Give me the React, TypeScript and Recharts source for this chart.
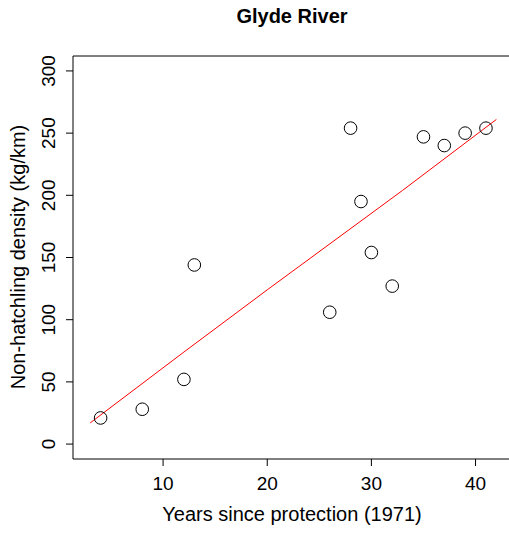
import {
  ComposedChart,
  Scatter,
  Line,
  XAxis,
  YAxis,
  ReferenceLine,
  Label,
} from "recharts";

// years since protection and non-hatchling density
const years: number[] = [4, 8, 12, 13, 26, 28, 29, 30, 32, 35, 37, 39, 41];
const density: number[] = [21, 28, 52, 144, 106, 254, 195, 154, 127, 247, 240, 250, 254];

// fitted trend (red), read at a few spots along the line
const fitYears: number[] = [3, 12, 20, 33, 42];
const fitDensity: number[] = [17, 74, 124, 204, 261];

const xTicks: number[] = [10, 20, 30, 40];
const yTicks: number[] = [0, 50, 100, 150, 200, 250, 300];

const points = years.map((x, i) => ({ x, y: density[i] }));
const fit = fitYears.map((x, i) => ({ x, y: fitDensity[i] }));

const FONT = "'Liberation Sans', Arial, Helvetica, sans-serif";

// y tick labels are rotated like R's default las=0
const YTick = (props: any) => {
  const { y, payload } = props;
  const bx = 55;
  return (
    <text
      x={bx}
      y={y}
      transform={`rotate(-90, ${bx}, ${y})`}
      textAnchor="middle"
      fontSize={19}
      fontFamily={FONT}
      fill="#000"
    >
      {payload.value}
    </text>
  );
};

const XTick = (props: any) => {
  const { x, payload } = props;
  return (
    <text x={x} y={490} textAnchor="middle" fontSize={19} fontFamily={FONT} fill="#000">
      {payload.value}
    </text>
  );
};

const OpenCircle = (props: any) => {
  const { cx, cy } = props;
  return <circle cx={cx} cy={cy} r={6.3} fill="none" stroke="#000" strokeWidth={1} />;
};

const App = () => {
  return (
    <div
      style={{
        position: "absolute",
        left: 0,
        top: 0,
        width: 509,
        height: 534,
        overflow: "hidden",
        background: "#fff",
      }}
    >
      <svg width={509} height={40} style={{ position: "absolute", left: 0, top: 0 }}>
        <text
          x={292}
          y={23}
          textAnchor="middle"
          fontSize={20}
          fontWeight="bold"
          fontFamily={FONT}
          fill="#000"
        >
          Glyde River
        </text>
      </svg>
      <div style={{ position: "absolute", left: 0, top: 0 }}>
        <ComposedChart
          width={520}
          height={534}
          margin={{ top: 56, right: 8, bottom: 45, left: 0 }}
        >
          <XAxis
            type="number"
            dataKey="x"
            domain={[1.35, 43.5]}
            ticks={xTicks}
            allowDataOverflow
            height={30}
            stroke="#000"
            tickSize={7}
            tickMargin={0}
            tick={<XTick />}
          >
            <Label
              content={() => (
                <text
                  x={292}
                  y={521}
                  textAnchor="middle"
                  fontSize={20}
                  fontFamily={FONT}
                  fill="#000"
                >
                  Years since protection (1971)
                </text>
              )}
            />
          </XAxis>
          <YAxis
            type="number"
            dataKey="y"
            domain={[-12, 312]}
            ticks={yTicks}
            allowDataOverflow
            width={73}
            stroke="#000"
            tickSize={7}
            tickMargin={0}
            tick={<YTick />}
          >
            <Label
              content={() => (
                <text
                  x={25}
                  y={257}
                  transform="rotate(-90, 25, 257)"
                  textAnchor="middle"
                  fontSize={20}
                  fontFamily={FONT}
                  fill="#000"
                >
                  Non-hatchling density (kg/km)
                </text>
              )}
            />
          </YAxis>
          <ReferenceLine y={312} stroke="#000" ifOverflow="visible" />
          <ReferenceLine x={43.5} stroke="#000" ifOverflow="visible" />
          <Line
            data={fit}
            dataKey="y"
            type="linear"
            stroke="#ff0000"
            strokeWidth={1}
            dot={false}
            activeDot={false}
            isAnimationActive={false}
          />
          <Scatter
            data={points}
            dataKey="y"
            shape={<OpenCircle />}
            isAnimationActive={false}
          />
        </ComposedChart>
      </div>
    </div>
  );
};

export default App;
